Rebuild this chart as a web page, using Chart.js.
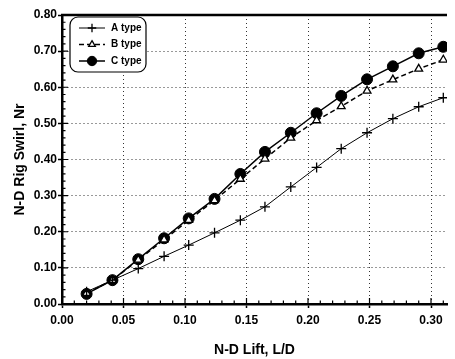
<!DOCTYPE html>
<html>
<head>
<meta charset="utf-8">
<script src="https://cdn.jsdelivr.net/npm/chart.js@4"></script>
<style>
  html, body { margin: 0; padding: 0; background: #fff; }
  #wrap { width: 455px; height: 359px; }
</style>
</head>
<body>
<div id="wrap"><canvas id="myChart" width="455" height="359"></canvas></div>
<script>
// non-dimensional lift values (L/D)
const lift = [0.020, 0.041, 0.062, 0.083, 0.103, 0.124, 0.145, 0.165, 0.186, 0.207, 0.227, 0.248, 0.269, 0.290, 0.310];

// rig swirl Nr for each port type
const swirlA = [0.034, 0.066, 0.098, 0.132, 0.163, 0.197, 0.232, 0.269, 0.324, 0.378, 0.430, 0.474, 0.513, 0.546, 0.571];
const swirlB = [0.030, 0.066, 0.122, 0.178, 0.232, 0.287, 0.346, 0.402, 0.460, 0.508, 0.547, 0.590, 0.621, 0.651, 0.676];
const swirlC = [0.028, 0.066, 0.124, 0.182, 0.237, 0.291, 0.360, 0.421, 0.474, 0.528, 0.576, 0.622, 0.658, 0.694, 0.712];

const seriesNames = ["A type", "B type", "C type"];
const xTicks = [0, 0.05, 0.10, 0.15, 0.20, 0.25, 0.30];
const yTicks = [0, 0.1, 0.2, 0.3, 0.4, 0.5, 0.6, 0.7, 0.8];

const FONT = "'Liberation Sans', Arial, sans-serif";

function toPoints(ys) {
    return lift.map((x, i) => ({ x: x, y: ys[i] }));
}

// top frame line, minor ticks and the boxed legend in the upper left
const framePlugin = {
    id: 'frame',
    afterDraw(chart) {
        const ctx = chart.ctx;
        const a = chart.chartArea;
        const xs = chart.scales.x, ys = chart.scales.y;
        ctx.save();
        ctx.strokeStyle = '#000';
        ctx.lineWidth = 2.5;
        ctx.beginPath();
        ctx.moveTo(a.left - 1, a.top);
        ctx.lineTo(a.right, a.top);
        ctx.stroke();

        ctx.lineWidth = 1.2;
        ctx.beginPath();
        for (let v = 0.01; v < xs.max; v += 0.01) {
            const px = xs.getPixelForValue(v);
            const len = Math.abs(Math.round(v * 100) % 5) === 0 ? 6 : 3.5;
            ctx.moveTo(px, a.bottom);
            ctx.lineTo(px, a.bottom - len);
        }
        for (let v = 0.02; v < ys.max; v += 0.02) {
            const py = ys.getPixelForValue(v);
            const len = Math.abs(Math.round(v * 100) % 10) === 0 ? 6 : 3.5;
            ctx.moveTo(a.left, py);
            ctx.lineTo(a.left + len, py);
        }
        ctx.stroke();

        // legend box
        const bx = 70, by = 17, bw = 76, bh = 55, r = 8;
        ctx.fillStyle = '#fff';
        ctx.lineWidth = 1.2;
        ctx.beginPath();
        ctx.roundRect(bx, by, bw, bh, r);
        ctx.fill();
        ctx.stroke();

        ctx.font = "bold 10px " + FONT;
        ctx.textBaseline = 'middle';
        chart.data.datasets.forEach((ds, i) => {
            const cy = by + 11 + i * 16.5;
            ctx.save();
            ctx.strokeStyle = '#000';
            ctx.lineWidth = ds.borderWidth;
            ctx.setLineDash(ds.borderDash || []);
            ctx.beginPath();
            ctx.moveTo(bx + 9, cy);
            ctx.lineTo(bx + 35, cy);
            ctx.stroke();
            ctx.restore();
            ctx.save();
            ctx.fillStyle = ds.pointBackgroundColor || '#000';
            ctx.strokeStyle = '#000';
            ctx.lineWidth = ds.pointBorderWidth;
            Chart.helpers.drawPoint(ctx, {
                pointStyle: ds.pointStyle,
                radius: ds.pointRadius * 0.85,
                borderWidth: ds.pointBorderWidth,
                rotation: 0
            }, bx + 22, cy);
            ctx.restore();
            ctx.fillStyle = '#000';
            ctx.textAlign = 'left';
            ctx.fillText(ds.label, bx + 41, cy);
        });
        ctx.restore();
    }
};

new Chart(document.getElementById('myChart'), {
    type: 'line',
    data: {
        datasets: [
            {
                label: seriesNames[0],
                data: toPoints(swirlA),
                borderColor: '#000',
                backgroundColor: '#000',
                borderWidth: 1,
                pointStyle: 'cross',
                pointRadius: 5,
                pointBorderWidth: 1.3,
                pointBorderColor: '#000'
            },
            {
                label: seriesNames[1],
                data: toPoints(swirlB),
                borderColor: '#000',
                backgroundColor: '#fff',
                borderWidth: 1.5,
                borderDash: [5, 3],
                pointStyle: 'triangle',
                pointRadius: 4.5,
                pointBorderWidth: 1.3,
                pointBackgroundColor: '#fff',
                pointBorderColor: '#000'
            },
            {
                label: seriesNames[2],
                data: toPoints(swirlC),
                borderColor: '#000',
                backgroundColor: '#000',
                borderWidth: 1.5,
                pointStyle: 'circle',
                pointRadius: 5.5,
                pointBorderWidth: 1,
                pointBackgroundColor: '#000',
                pointBorderColor: '#000'
            }
        ]
    },
    plugins: [framePlugin],
    options: {
        responsive: false,
        animation: false,
        layout: { padding: { top: 15, right: 8, left: 0, bottom: 0 } },
        plugins: {
            legend: { display: false },
            tooltip: { enabled: false }
        },
        scales: {
            x: {
                type: 'linear',
                min: 0,
                max: 0.313,
                afterFit(scale) { scale.height = 55; },
                afterBuildTicks(scale) { scale.ticks = xTicks.map(v => ({ value: v })); },
                ticks: {
                    includeBounds: false,
                    color: '#000',
                    padding: 5,
                    font: { family: FONT, size: 12, weight: 'bold' },
                    callback: v => v.toFixed(2)
                },
                grid: { color: '#333', lineWidth: 1, tickLength: 4, tickColor: '#000', tickWidth: 1.5 },
                border: { color: '#000', width: 2.5, dash: [1, 3] },
                title: {
                    display: true,
                    text: 'N-D Lift, L/D',
                    color: '#000',
                    font: { family: FONT, size: 14, weight: 'bold' },
                    padding: { top: 8, bottom: 0 }
                }
            },
            y: {
                min: 0,
                max: 0.8,
                afterFit(scale) { scale.width = 62; },
                afterBuildTicks(scale) { scale.ticks = yTicks.map(v => ({ value: v })); },
                ticks: {
                    color: '#000',
                    padding: 1,
                    font: { family: FONT, size: 12, weight: 'bold' },
                    callback: v => v.toFixed(2)
                },
                grid: { color: '#333', lineWidth: 1, tickLength: 4, tickColor: '#000', tickWidth: 1.5 },
                border: { color: '#000', width: 2.5, dash: [1, 3] },
                title: {
                    display: true,
                    text: 'N-D Rig Swirl, Nr',
                    color: '#000',
                    font: { family: FONT, size: 14, weight: 'bold' },
                    padding: { top: 12, bottom: 0 }
                }
            }
        }
    }
});
</script>
</body>
</html>
